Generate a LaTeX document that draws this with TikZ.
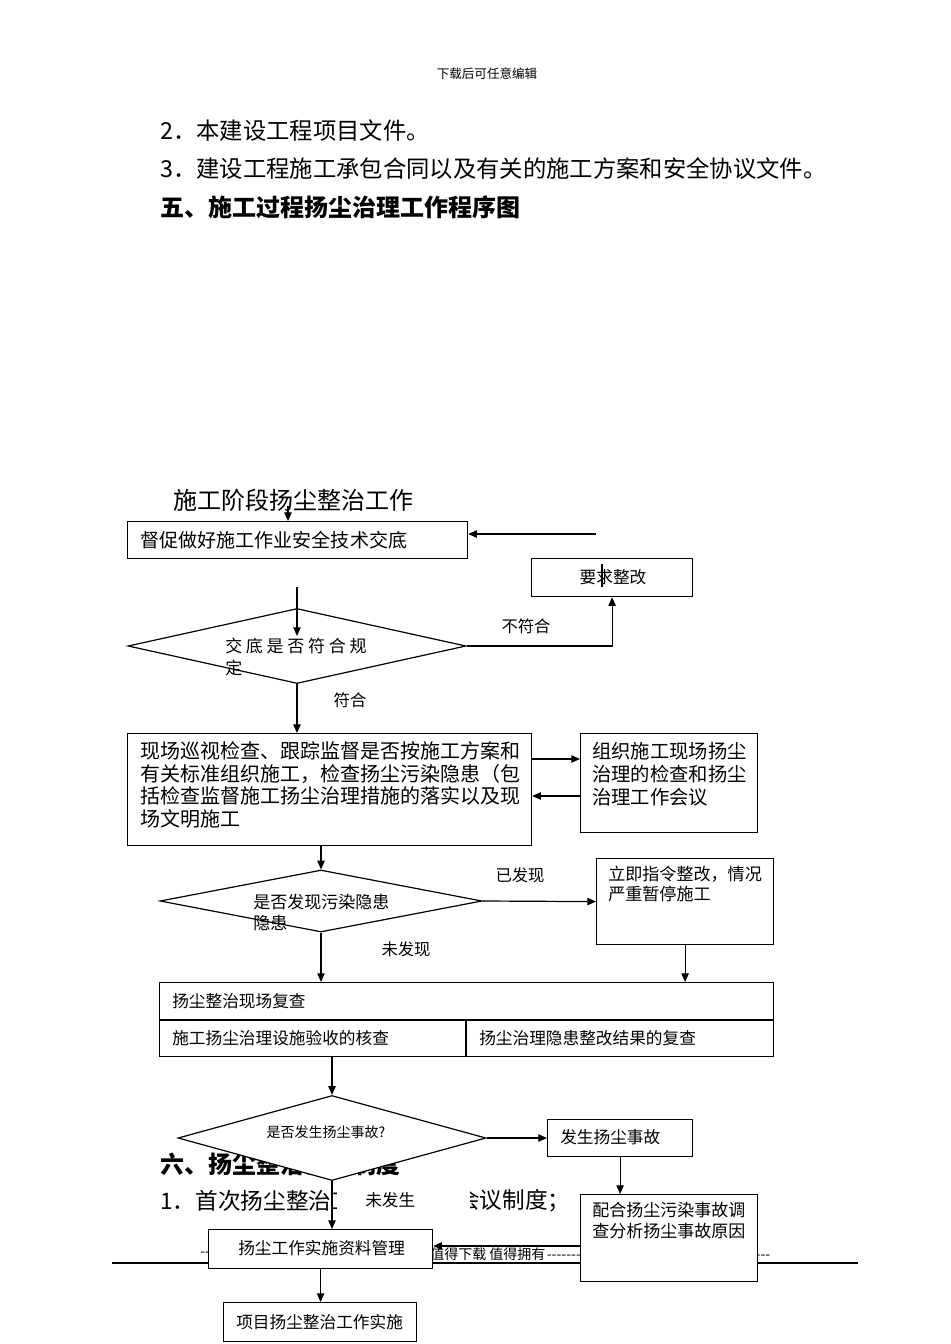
\documentclass[tikz,border=0pt]{standalone}
\usepackage{fontspec}
\setmainfont{Noto Sans CJK SC}
\newfontfamily\cjksp[LetterSpace=22]{Noto Sans CJK SC}
\usetikzlibrary{arrows.meta,shapes.geometric}
\newcommand\fs[1]{\fontsize{#1}{#1}\selectfont}
\newcommand\fsz[2]{\fontsize{#1}{#2}\selectfont}
\begin{document}
\begin{tikzpicture}[x=0.75pt,y=-0.75pt,
  box/.style={draw, fill=white, rectangle, inner sep=0pt, anchor=north west, line width=0.9pt},
  dia/.style={draw, fill=white, diamond, inner sep=0pt, line width=0.9pt},
  txt/.style={inner sep=0pt, anchor=west, align=left},
  lbl/.style={inner sep=0pt},
  arr/.style={line width=0.9pt, -{Triangle[length=6.5pt,width=5.5pt]}},
  ln/.style={line width=0.9pt}]
\useasboundingbox (0,0) rectangle (950,1344);
\fill[white] (0,0) rectangle (950,1344);

% page text
\node[lbl, font=\fs{9.4}] (hdr) at (487,74) {下载后可任意编辑};
\node[txt, font=\fs{17.5}] (l2) at (160,131) {2．本建设工程项目文件。};
\node[txt, font=\fs{17.5}] (l3) at (160,169) {3．建设工程施工承包合同以及有关的施工方案和安全协议文件。};
\node[txt, font=\fs{18}\bfseries] (h5) at (160,207) {五、施工过程扬尘治理工作程序图};
\node[txt, font=\fs{18}] (ttl) at (173,500) {施工阶段扬尘整治工作};
\node[txt, font=\fs{18}\bfseries] (h6) at (160,1164) {六、扬尘整治会议制度};
\node[txt, font=\fs{17}] (r1a) at (160,1201) {1．首次扬尘整治工作};
\node[txt, font=\fs{17}] (r1b) at (457,1201) {会议制度；};

% footer
\draw[ln] (112,1263) -- (858,1263);
\node[txt, font=\fs{10.5}] (ftl) at (200,1254) {\leaders\hbox{-}\hskip 8pt\relax};
\node[txt, font=\fs{10.5}] (ftr) at (430,1254) {值得下载 值得拥有\leaders\hbox{-}\hskip 170pt\relax};

% boxes
\node[box, minimum width=255pt, minimum height=27.75pt] (b1) at (127,521) {};
\node[box, minimum width=120.75pt, minimum height=28.5pt] (b2) at (531,558) {};
\node[box, minimum width=303pt, minimum height=84pt] (b3) at (127,733) {};
\node[box, minimum width=132.75pt, minimum height=74.25pt] (b4) at (580,733) {};
\node[box, minimum width=132.75pt, minimum height=64.5pt] (b5) at (596,858) {};
\node[box, minimum width=460.5pt, minimum height=55.5pt] (b6) at (159,982) {};
\node[box, minimum width=108.75pt, minimum height=27.75pt] (b7) at (547,1119) {};
\node[box, minimum width=132.75pt, minimum height=65.25pt] (b8) at (580,1194) {};
\node[box, minimum width=168pt, minimum height=29.25pt] (b9) at (208,1229) {};
\node[box, minimum width=144.75pt, minimum height=29.25pt] (b10) at (223,1302) {};

% diamonds
\node[dia, minimum width=253.5pt, minimum height=56.25pt] (d1) at (297,646) {};
\node[dia, minimum width=241.5pt, minimum height=46.5pt] (d2) at (321,901) {};
\node[dia, minimum width=231pt, minimum height=63.75pt] (d3) at (332,1138) {};

% white label
\node[inner sep=0pt, fill=white, anchor=west, minimum height=21pt, font=\fs{12.5}] (nf) at (337,1200) {\hspace*{21pt}未发生\hspace*{41pt}};

% b6 dividers
\coordinate (h1) at (159,1020);
\draw[ln] (h1) -- (h1 -| b6.east);
\coordinate (v1) at (466,1020);
\draw[ln] (v1) -- (v1 |- b6.south);

% texts in shapes
\node[txt, font=\fs{14.3}] (b1t) at (140,540) {督促做好施工作业安全技术交底};
\node[lbl, font=\fs{12.5}] (b2t) at (613,577) {要求整改};
\node[txt, font=\cjksp\fsz{12.75}{16.5}] (d1t) at (225,657) {交底是否符合规\\定};
\node[txt, font=\fsz{15}{17}] (b3t) at (140,785) {现场巡视检查、跟踪监督是否按施工方案和\\有关标准组织施工，检查扬尘污染隐患（包\\括检查监督施工扬尘治理措施的落实以及现\\场文明施工};
\node[txt, font=\fsz{14.5}{17.25}] (b4t) at (592,774) {组织施工现场扬尘\\治理的检查和扬尘\\治理工作会议};
\node[txt, font=\fsz{12.75}{15.75}] (d2t) at (253,912) {是否发现污染隐患\\隐患};
\node[txt, font=\fsz{12.8}{15}] (b5t) at (608,884) {立即指令整改，情况\\严重暂停施工};
\node[txt, font=\fs{12.5}] (b6a) at (172,1001) {扬尘整治现场复查};
\node[txt, font=\fs{12.5}] (b6b) at (172,1038) {施工扬尘治理设施验收的核查};
\node[txt, font=\fs{12.5}] (b6c) at (479,1038) {扬尘治理隐患整改结果的复查};
\node[lbl, font=\fs{10.5}] (d3t) at (326,1132) {是否发生扬尘事故?};
\node[txt, font=\fs{12.5}] (b7t) at (560,1137) {发生扬尘事故};
\node[txt, font=\fsz{12.75}{15.75}] (b8t) at (592,1221) {配合扬尘污染事故调\\查分析扬尘事故原因};
\node[txt, font=\fs{12.5}] (b9t) at (238,1248) {扬尘工作实施资料管理};
\node[txt, font=\fs{12.5}] (b10t) at (236,1322) {项目扬尘整治工作实施};

% connector labels
\node[lbl, font=\fs{12.25}] (lb1) at (526,626) {不符合};
\node[lbl, font=\fs{12.25}] (lb2) at (350,700) {符合};
\node[lbl, font=\fs{12.25}] (lb3) at (520,875) {已发现};
\node[lbl, font=\fs{12.25}] (lb4) at (406,949) {未发现};

% connectors
\coordinate (c0) at (288,506);
\draw[arr] (c0) -- (c0 |- b1.north);
\coordinate (c1) at (596,534);
\draw[arr] (c1) -- (c1 -| b1.east);
\coordinate (s1) at (602,564);
\coordinate (s2) at (602,587);
\draw[ln] (s1) -- (s2);
\coordinate (c2) at (297,587);
\coordinate (c3) at (297,636);
\draw[arr] (c2) -- (c3);
\draw[arr] (d1.east) -| (b2.south);
\draw[arr] (d1.south) -- (d1.south |- b3.north);
\draw[arr] (b3.east |- 0,759) -- (b4.west |- 0,759);
\draw[arr] (b4.west |- 0,796) -- (b3.east |- 0,796);
\draw[arr] (d2.north |- b3.south) -- (d2.north);
\draw[arr] (d2.east) -- (b5.west);
\draw[arr] (d2.south) -- (d2.south |- b6.north);
\draw[arr] (b5.south) -- (b5.south |- b6.north);
\draw[arr] (d3.north |- b6.south) -- (d3.north);
\draw[arr] (d3.east) -- (d3.east -| b7.west);
\draw[arr] (b7.south) -- (b7.south |- b8.north);
\draw[arr] (d3.south) -- (d3.south |- b9.north);
\draw[arr] (b8.west |- 0,1246) -- (b9.east |- 0,1246);
\draw[arr] (b9.south) -- (b9.south |- b10.north);
\end{tikzpicture}
\end{document}
